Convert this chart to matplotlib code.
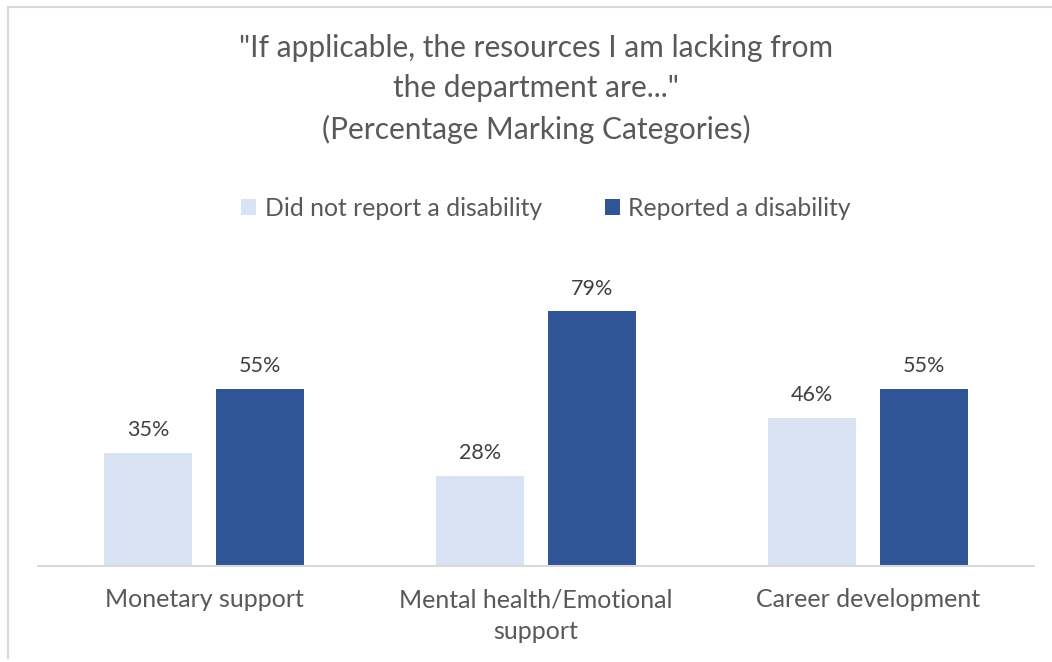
import numpy as np
import matplotlib.pyplot as plt

plt.rcParams['font.family'] = ['Lato', 'DejaVu Sans']

categories = ['Monetary support', 'Mental health/Emotional\nsupport', 'Career development']
no_disability = [35, 28, 46]
disability = [55, 79, 55]
series_names = ['Did not report a disability', 'Reported a disability']

light_blue = '#DAE3F3'
dark_blue = '#2F5597'
text_gray = '#595959'

fig = plt.figure(figsize=(10.52, 6.62), dpi=100)
ax = fig.add_axes([38 / 1052, 96 / 662, 996 / 1052, 290 / 662])

x = np.arange(len(categories))
w = 0.265
gap = 0.036
b1 = ax.bar(x - w / 2 - gap, no_disability, w, color=light_blue, label=series_names[0])
b2 = ax.bar(x + w / 2 + gap, disability, w, color=dark_blue, label=series_names[1])

for bars, vals in [(b1, no_disability), (b2, disability)]:
    for rect, v in zip(bars, vals):
        ax.annotate(f'{v}%', (rect.get_x() + rect.get_width() / 2, v),
                    xytext=(0, 16.5), textcoords='offset points',
                    ha='center', va='center', fontsize=15.5, color='#404040')

ax.set_xlim(-0.5, 2.5)
ax.set_ylim(0, 90)
ax.set_xticks(x)
ax.set_xticklabels(categories, fontsize=18, color=text_gray, linespacing=1.45)
ax.tick_params(axis='x', length=0, pad=16)
ax.set_yticks([])
for s in ['top', 'right', 'left']:
    ax.spines[s].set_visible(False)
ax.spines['bottom'].set_color('#D9D9D9')
ax.spines['bottom'].set_linewidth(1.5)

fig.text(536 / 1052, 1 - 89 / 662,
         '"If applicable, the resources I am lacking from\nthe department are..."\n(Percentage Marking Categories)',
         ha='center', va='center', fontsize=21.5, color=text_gray, linespacing=1.52)

fig.legend(handles=[b1, b2], loc='center', bbox_to_anchor=(546 / 1052, 1 - 208 / 662),
           ncol=2, frameon=False, fontsize=17.8, labelcolor=text_gray,
           handlelength=0.6, handleheight=0.6, handletextpad=0.35, columnspacing=2.55)

# thin frame on the top and left edges
fig.add_artist(plt.Line2D([7.5 / 1052, 7.5 / 1052], [1 - 658 / 662, 1 - 7 / 662],
                          transform=fig.transFigure, color='#D9D9D9', lw=1.5))
fig.add_artist(plt.Line2D([7.5 / 1052, 1], [1 - 7 / 662, 1 - 7 / 662],
                          transform=fig.transFigure, color='#D9D9D9', lw=1.5))

fig.savefig('out.png', dpi=100)
